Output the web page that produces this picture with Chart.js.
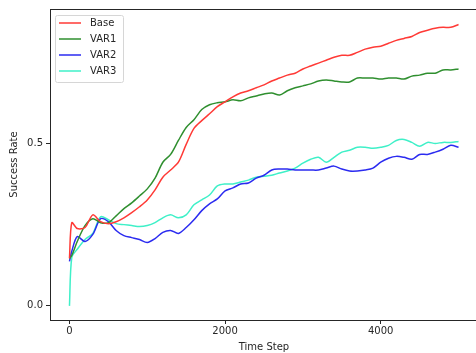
<!DOCTYPE html>
<html>
<head>
<meta charset="utf-8">
<script src="https://cdn.jsdelivr.net/npm/chart.js@4"></script>
<style>
  html, body { margin: 0; padding: 0; background: #fff; overflow: hidden; }
  #chart { display: block; }
</style>
</head>
<body>
<canvas id="chart" width="482" height="353"></canvas>
<script>
// time steps (x)
const steps = [0, 30, 100, 200, 300, 400, 500, 600, 700, 800, 900, 1000,
    1100, 1200, 1300, 1400, 1500, 1600, 1700, 1800, 1900, 2000,
    2100, 2200, 2300, 2400, 2500, 2600, 2700, 2800, 2900, 3000,
    3100, 3200, 3300, 3400, 3500, 3600, 3700, 3800, 3900, 4000,
    4100, 4200, 4300, 4400, 4500, 4600, 4700, 4800, 4900, 5000];

const base = [0.146, 0.256, 0.238, 0.241, 0.280, 0.259, 0.253, 0.259, 0.271, 0.287, 0.305, 0.326,
    0.357, 0.396, 0.418, 0.442, 0.497, 0.546, 0.570, 0.591, 0.613, 0.628,
    0.643, 0.655, 0.662, 0.671, 0.680, 0.692, 0.701, 0.710, 0.716, 0.729,
    0.738, 0.747, 0.756, 0.765, 0.771, 0.771, 0.780, 0.790, 0.796, 0.799,
    0.808, 0.817, 0.823, 0.829, 0.841, 0.848, 0.854, 0.857, 0.857, 0.866];

const var1 = [0.146, 0.155, 0.198, 0.247, 0.268, 0.256, 0.256, 0.277, 0.299, 0.317, 0.338, 0.360,
    0.393, 0.442, 0.466, 0.509, 0.549, 0.573, 0.604, 0.619, 0.625, 0.628,
    0.634, 0.631, 0.640, 0.646, 0.652, 0.655, 0.649, 0.662, 0.671, 0.677,
    0.683, 0.692, 0.695, 0.692, 0.689, 0.689, 0.701, 0.701, 0.701, 0.698,
    0.701, 0.701, 0.698, 0.707, 0.710, 0.716, 0.716, 0.726, 0.726, 0.729];

const var2 = [0.137, 0.168, 0.213, 0.198, 0.220, 0.268, 0.259, 0.232, 0.216, 0.210, 0.204, 0.195,
    0.207, 0.226, 0.232, 0.223, 0.241, 0.265, 0.293, 0.314, 0.329, 0.354,
    0.363, 0.375, 0.378, 0.393, 0.402, 0.418, 0.421, 0.421, 0.418, 0.418,
    0.418, 0.418, 0.424, 0.430, 0.421, 0.415, 0.415, 0.418, 0.424, 0.442,
    0.454, 0.460, 0.457, 0.451, 0.466, 0.466, 0.473, 0.482, 0.494, 0.488];

const var3 = [0.0, 0.149, 0.174, 0.204, 0.223, 0.274, 0.265, 0.253, 0.250, 0.247, 0.244, 0.247,
    0.256, 0.271, 0.280, 0.271, 0.280, 0.311, 0.326, 0.341, 0.369, 0.375,
    0.375, 0.381, 0.387, 0.396, 0.399, 0.402, 0.409, 0.415, 0.424, 0.439,
    0.451, 0.457, 0.442, 0.457, 0.473, 0.479, 0.488, 0.488, 0.485, 0.488,
    0.494, 0.509, 0.512, 0.503, 0.491, 0.503, 0.500, 0.503, 0.503, 0.506];

const seriesNames = ["Base", "VAR1", "VAR2", "VAR3"];
const seriesColors = ["#ff3a36", "#2f8f2f", "#2b2bf0", "#3ff0c8"];
const xTicks = [0, 2000, 4000];
const yTicks = [0.0, 0.5];

const FONT = "'DejaVu Sans', sans-serif";
const INK = "#262626";

function toPoints(values) {
    return values.map((v, i) => ({ x: steps[i], y: v }));
}

// matplotlib style box round the plot
const frameBox = {
    id: "frameBox",
    afterDatasetsDraw(chart) {
        const a = chart.chartArea;
        const ctx = chart.ctx;
        ctx.save();
        ctx.strokeStyle = INK;
        ctx.lineWidth = 1;
        ctx.strokeRect(Math.round(a.left) + 0.5, Math.round(a.top) + 0.5,
            Math.round(a.right - a.left), Math.round(a.bottom - a.top));
        ctx.restore();
    },
};

// legend box in the upper left corner
const cornerLegend = {
    id: "cornerLegend",
    afterDraw(chart) {
        const ctx = chart.ctx;
        const a = chart.chartArea;
        const x0 = a.left + 5, y0 = a.top + 6;
        const w = 68, rowH = 16;
        const h = rowH * chart.data.datasets.length + 3;
        ctx.save();
        ctx.fillStyle = "rgba(255,255,255,0.85)";
        ctx.strokeStyle = "#d6d6d6";
        ctx.lineWidth = 1;
        ctx.beginPath();
        ctx.roundRect(x0 + 0.5, y0 + 0.5, w, h, 2);
        ctx.fill();
        ctx.stroke();
        ctx.font = "10px " + FONT;
        ctx.textBaseline = "middle";
        chart.data.datasets.forEach((ds, i) => {
            const y = y0 + 8 + i * rowH;
            ctx.strokeStyle = ds.borderColor;
            ctx.lineWidth = 1.5;
            ctx.beginPath();
            ctx.moveTo(x0 + 4, y);
            ctx.lineTo(x0 + 26, y);
            ctx.stroke();
            ctx.fillStyle = INK;
            ctx.fillText(ds.label, x0 + 35, y);
        });
        ctx.restore();
    },
};

const allSeries = [base, var1, var2, var3];

new Chart(document.getElementById("chart"), {
    type: "line",
    data: {
        datasets: allSeries.map((vals, i) => ({
            label: seriesNames[i],
            data: toPoints(vals),
            borderColor: seriesColors[i],
            borderWidth: 1.5,
            pointRadius: 0,
            tension: 0.3,
            fill: false,
        })),
    },
    options: {
        responsive: false,
        animation: false,
        devicePixelRatio: 1,
        layout: { padding: { top: 7, right: 4, left: 0, bottom: 0 } },
        plugins: {
            legend: { display: false },
            tooltip: { enabled: false },
        },
        scales: {
            x: {
                type: "linear",
                min: -250,
                max: 5250,
                afterBuildTicks: (scale) => {
                    scale.ticks = xTicks.map((v) => ({ value: v }));
                },
                afterFit: (scale) => {
                    scale.height = 33;
                },
                ticks: {
                    callback: (v) => String(v),
                    font: { family: FONT, size: 10 },
                    color: INK,
                    padding: 1,
                    maxRotation: 0,
                },
                grid: {
                    drawOnChartArea: false,
                    drawTicks: true,
                    tickLength: 4,
                    color: INK,
                },
                border: { display: false },
                title: {
                    display: true,
                    text: "Time Step",
                    font: { family: FONT, size: 10 },
                    color: INK,
                    padding: { top: 1, bottom: 0 },
                },
            },
            y: {
                min: -0.0435,
                max: 0.9135,
                afterBuildTicks: (scale) => {
                    scale.ticks = yTicks.map((v) => ({ value: v }));
                },
                afterFit: (scale) => {
                    scale.width = 50;
                },
                ticks: {
                    callback: (v) => v.toFixed(1),
                    font: { family: FONT, size: 10 },
                    color: INK,
                    padding: 3,
                },
                grid: {
                    drawOnChartArea: false,
                    drawTicks: true,
                    tickLength: 4,
                    color: INK,
                },
                border: { display: false },
                title: {
                    display: true,
                    text: "Success Rate",
                    font: { family: FONT, size: 10 },
                    color: INK,
                    padding: { top: 8, bottom: 0 },
                },
            },
        },
    },
    plugins: [frameBox, cornerLegend],
});
</script>
</body>
</html>
